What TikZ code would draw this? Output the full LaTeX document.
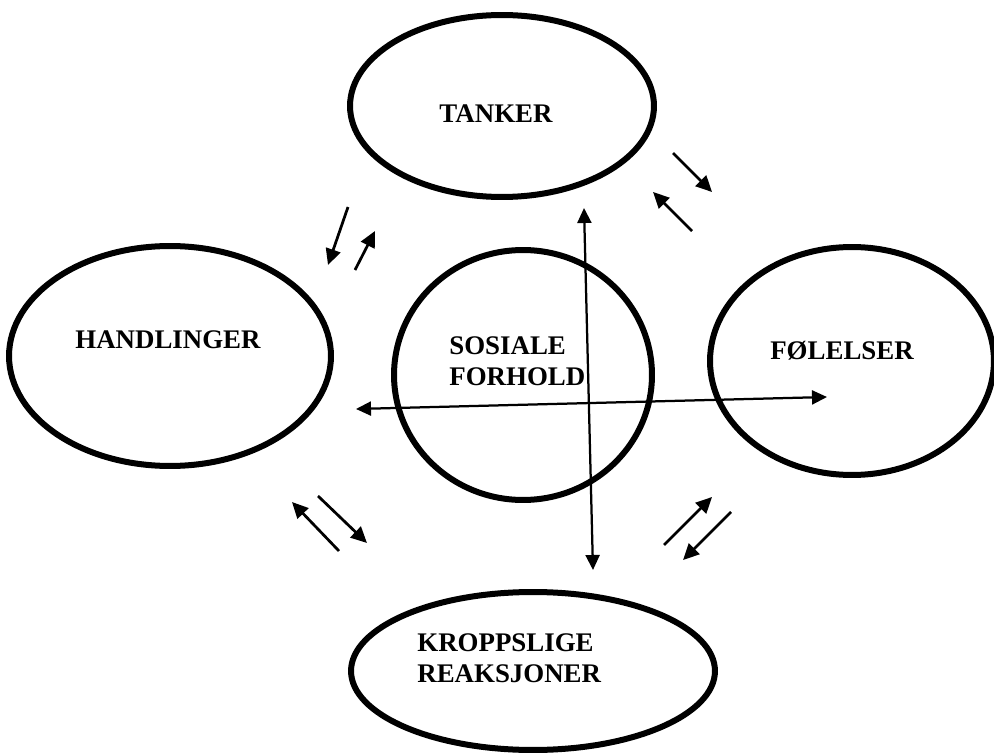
\documentclass[tikz,border=0pt]{standalone}
\usepackage{fontspec}
\setmainfont{Liberation Serif}
\usetikzlibrary{shapes.geometric,arrows.meta}
\begin{document}
\begin{tikzpicture}[x=0.02cm,y=-0.02cm,
  oval/.style={draw,ellipse,line width=0.12cm,inner sep=0pt},
  lbl/.style={font=\fontsize{15.3}{17.6}\selectfont\bfseries,align=left,inner sep=0pt},
  arr/.style={line width=0.055cm,-{Triangle[length=0.32cm,width=0.3cm]}},
  longarr/.style={line width=0.045cm,{Triangle[length=0.3cm,width=0.28cm]}-{Triangle[length=0.3cm,width=0.28cm]}}]
\useasboundingbox (0,0) rectangle (994,753);
% ellipses
\node[oval,minimum width=6.08cm,minimum height=3.64cm] (tanker) at (502,106) {};
\node[oval,minimum width=6.44cm,minimum height=4.40cm] (handl) at (170,356) {};
\node[oval,minimum width=5.16cm,minimum height=5.00cm] (sos) at (523,375) {};
\node[oval,minimum width=5.68cm,minimum height=4.56cm] (fol) at (852,361) {};
\node[oval,minimum width=7.28cm,minimum height=3.16cm] (kropp) at (533,671) {};
% texts
\node[lbl] (t1) at (496,114) {TANKER};
\node[lbl] (t2) at (168,340) {HANDLINGER};
\node[lbl,anchor=west] (t3) at (449,361) {SOSIALE\\FORHOLD};
\node[lbl] (t4) at (842,351) {FØLELSER};
\node[lbl,anchor=west] (t5) at (417,658) {KROPPSLIGE\\REAKSJONER};
% long arrows
\coordinate (hL) at (356,409);
\coordinate (hR) at (827,397);
\coordinate (vT) at (584,208);
\coordinate (vB) at (593,570);
\draw[longarr] (hL) -- (hR);
\draw[longarr] (vT) -- (vB);
% small arrows
\coordinate (a1s) at (348,207); \coordinate (a1e) at (328,265);
\coordinate (a2s) at (355,270); \coordinate (a2e) at (375,231);
\coordinate (a3s) at (673,153); \coordinate (a3e) at (712,192);
\coordinate (a4s) at (692,231); \coordinate (a4e) at (653,192);
\coordinate (a5s) at (339,551); \coordinate (a5e) at (292,502);
\coordinate (a6s) at (318,496); \coordinate (a6e) at (367,543);
\coordinate (a7s) at (664,545); \coordinate (a7e) at (712,497);
\coordinate (a8s) at (731,512); \coordinate (a8e) at (683,560);
\foreach \i in {1,...,8} {\draw[arr] (a\i s) -- (a\i e);}
\end{tikzpicture}
\end{document}
